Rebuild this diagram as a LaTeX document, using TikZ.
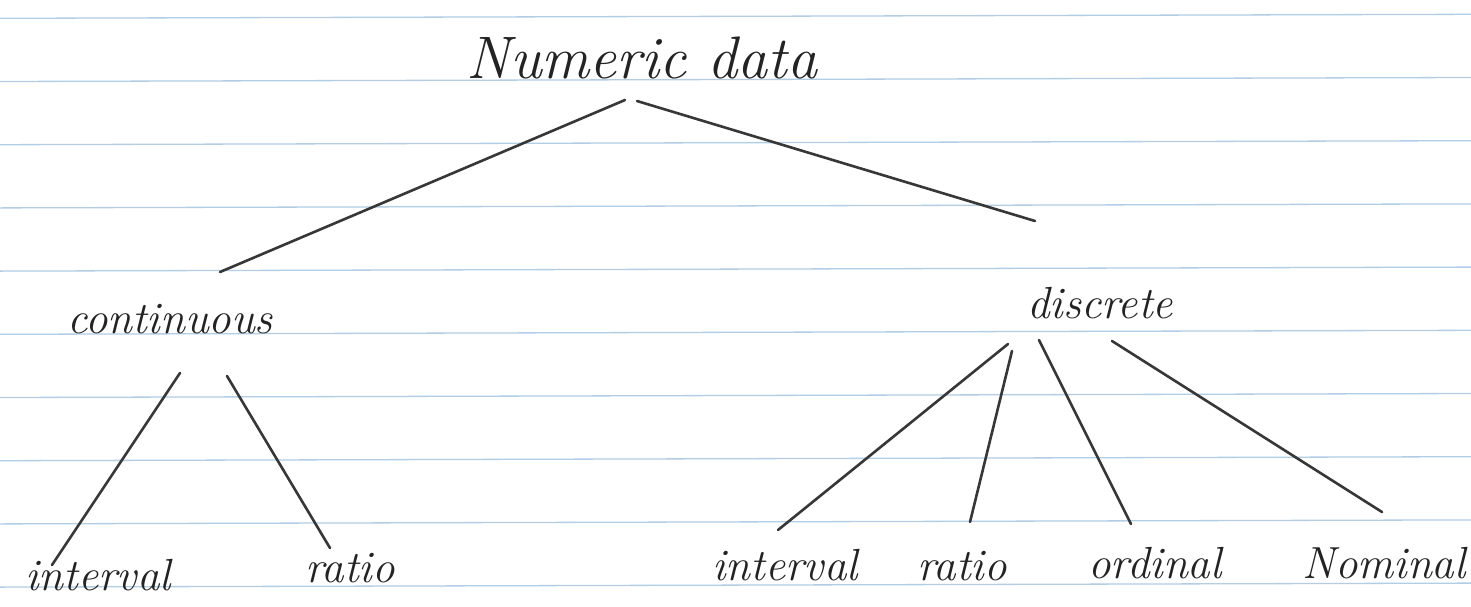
\documentclass[tikz,border=0pt]{standalone}
\usepackage{fontspec}
\begin{document}
\begin{tikzpicture}[x=1pt,y=-1pt,
  rule/.style={draw=ruleblue,line width=1.3pt},
  pencil/.style={draw=pencilgray,line width=2.6pt,line cap=round},
  title/.style={font=\itshape\fontsize{60}{66}\selectfont,text=inkgray,inner sep=0pt,anchor=base},
  lab/.style={font=\itshape\fontsize{45}{50}\selectfont,text=inkgray,inner sep=0pt,anchor=base}]
\definecolor{ruleblue}{RGB}{178,205,228}
\definecolor{pencilgray}{RGB}{55,55,55}
\definecolor{inkgray}{RGB}{35,35,35}
\useasboundingbox (0,0) rectangle (1471,606);
\fill[white] (0,0) rectangle (1471,606);
% ruled lines
\foreach \k in {0,...,9} {
  \draw[rule] (0,{18.3+63.2*\k}) -- (1471,{14.3+63.2*\k});
}
% text nodes
\node[title] (num) at (642,78) {Numeric data};
\node[lab] (cont) at (170,333) {continuous};
\node[lab] (disc) at (1100,318) {discrete};
\node[lab] (int1) at (98,590) {interval};
\node[lab] (rat1) at (350,582) {ratio};
\node[lab] (int2) at (785,580) {interval};
\node[lab] (rat2) at (962,580) {ratio};
\node[lab] (ord) at (1155,578) {ordinal};
\node[lab] (nom) at (1384,578) {Nominal};
% connector end points
\coordinate (numL) at (625,100);
\coordinate (numR) at (637,101);
\coordinate (contT) at (220,272);
\coordinate (discT) at (1035,221);
\coordinate (contBL) at (180,373);
\coordinate (contBR) at (227,376);
\coordinate (int1T) at (52,565);
\coordinate (rat1T) at (330,548);
\coordinate (discB1) at (1008,344);
\coordinate (discB2) at (1012,351);
\coordinate (discB3) at (1039,340);
\coordinate (discB4) at (1112,341);
\coordinate (int2T) at (778,530);
\coordinate (rat2T) at (970,522);
\coordinate (ordT) at (1131,524);
\coordinate (nomT) at (1382,512);
% connectors
\draw[pencil] (numL) -- (contT);
\draw[pencil] (numR) -- (discT);
\draw[pencil] (contBL) -- (int1T);
\draw[pencil] (contBR) -- (rat1T);
\draw[pencil] (discB1) -- (int2T);
\draw[pencil] (discB2) -- (rat2T);
\draw[pencil] (discB3) -- (ordT);
\draw[pencil] (discB4) -- (nomT);
\end{tikzpicture}
\end{document}
